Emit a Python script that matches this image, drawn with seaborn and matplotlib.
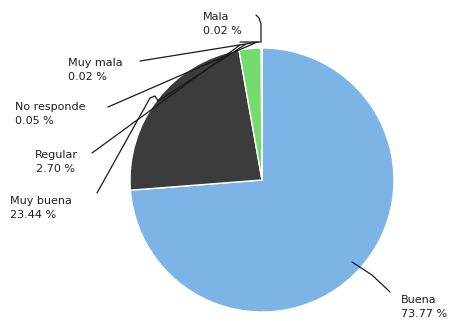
import matplotlib
matplotlib.use("Agg")
import matplotlib.pyplot as plt
import numpy as np
import seaborn as sns

sns.set_theme(style="white")
plt.rcParams["font.family"] = ["DejaVu Sans"]

# Survey answers and their shares (%)
categories = ["Buena", "Muy buena", "Regular", "No responde", "Muy mala", "Mala"]
shares = [73.77, 23.44, 2.70, 0.05, 0.02, 0.02]
share_labels = ["73.77 %", "23.44 %", "2.70 %", "0.05 %", "0.02 %", "0.02 %"]
colors = ["#7db4e8", "#3c3c3e", "#74dc6e", "#3c3c3e", "#3c3c3e", "#3c3c3e"]

W, H = 451, 321
fig = plt.figure(figsize=(W / 100, H / 100), dpi=100)
ax = fig.add_axes([0, 0, 1, 1])

cx, cy, r = 262, H - 180, 132
wedges, _ = ax.pie(
    shares,
    colors=colors,
    startangle=90,
    counterclock=False,
    center=(cx, cy),
    radius=r,
    frame=True,
    wedgeprops=dict(edgecolor="white", linewidth=1.0),
)
ax.set_xlim(0, W)
ax.set_ylim(0, H)
ax.set_aspect("equal")
ax.axis("off")


def px(x, y):
    # convert top-down pixel position into axes data coordinates
    return (x, H - y)


txt_kw = dict(fontsize=8, color="#1e1e1e", linespacing=1.45, va="top")
label_pos = {
    "Buena": (401, 295, "left"),
    "Muy buena": (10, 196, "left"),
    "Regular": (56, 150, "center"),
    "No responde": (15, 102, "left"),
    "Muy mala": (68, 58, "left"),
    "Mala": (203, 12, "left"),
}
for cat, lab in zip(categories, share_labels):
    x, y, ha = label_pos[cat]
    ax.text(*px(x, y), f"{cat}\n{lab}", ha=ha, multialignment=ha, **txt_kw)

line_kw = dict(color="#1a1a1a", lw=0.9)
leaders = {
    "Buena": [(390, 292), (372, 275), (352, 262)],
    "Muy buena": [(97, 193), (150, 98), (155, 96), (158, 101), (246, 44)],
    "Regular": [(92, 153), (240, 45)],
    "No responde": [(108, 107), (255, 43)],
    "Muy mala": [(140, 61), (258, 42)],
    "Mala": [(240, 42), (261, 42), (261, 24), (259, 18), (256, 15)],
}
for cat, pts in leaders.items():
    xs = [p[0] for p in pts]
    ys = [H - p[1] for p in pts]
    ax.plot(xs, ys, **line_kw)

fig.savefig("out.png", dpi=100, facecolor="white")
